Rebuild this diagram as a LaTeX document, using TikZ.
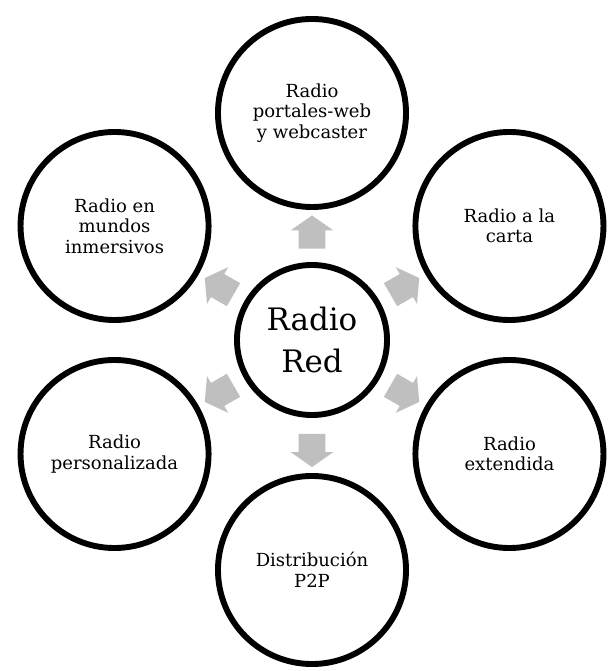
\documentclass[tikz,border=0pt]{standalone}
\usepackage{fontspec}
\setmainfont{DejaVu Serif}
\usepackage{tikz}
\usetikzlibrary{shapes.arrows,calc,shadows}
\definecolor{arrowgray}{HTML}{BFBFBF}

\begin{document}
\begin{tikzpicture}[x=0.025cm, y=0.025cm,
    outer/.style={circle, draw=black, line width=4.2pt, fill=white, minimum size=4.7cm,
      align=center, inner sep=0pt, font=\fontsize{12.8}{14.6}\selectfont,
      drop shadow={opacity=0.2, shadow xshift=0pt, shadow yshift=-1.5pt}},
    hubnode/.style={outer, minimum size=3.75cm, font=\fontsize{22}{29.5}\selectfont},
    blockarrow/.style={single arrow, fill=arrowgray, draw=none, inner xsep=0pt,
      inner ysep=0.325cm, minimum height=0.83cm, single arrow head extend=0.2cm,
      single arrow tip angle=110}]
  \useasboundingbox (0,0) rectangle (614,671);

  % centre
  \node[hubnode] (hub) at (312,331) {Radio\\Red};

  % ring of six
  \node[outer] (web) at ($(hub)+(90:227)$) {Radio\\portales-web\\y webcaster};
  \node[outer] (carta) at ($(hub)+(30:228)$) {Radio a la\\carta};
  \node[outer] (ext) at ($(hub)+(-30:228)$) {Radio\\extendida};
  \node[outer] (ptp) at ($(hub)+(-90:230)$) {Distribución\\P2P};
  \node[outer] (pers) at ($(hub)+(-150:228)$) {Radio\\personalizada};
  \node[outer] (inm) at ($(hub)+(150:228)$) {Radio en\\mundos\\inmersivos};

  % arrows out of the centre
  \node[blockarrow, rotate=90] (a1) at ($(hub)!0.455!(web)$) {};
  \node[blockarrow, rotate=30] (a2) at ($(hub)!0.45!(carta)$) {};
  \node[blockarrow, rotate=-30] (a3) at ($(hub)!0.45!(ext)$) {};
  \node[blockarrow, rotate=-90] (a4) at ($(hub)!0.46!(ptp)$) {};
  \node[blockarrow, rotate=-150] (a5) at ($(hub)!0.45!(pers)$) {};
  \node[blockarrow, rotate=150] (a6) at ($(hub)!0.45!(inm)$) {};
\end{tikzpicture}
\end{document}
